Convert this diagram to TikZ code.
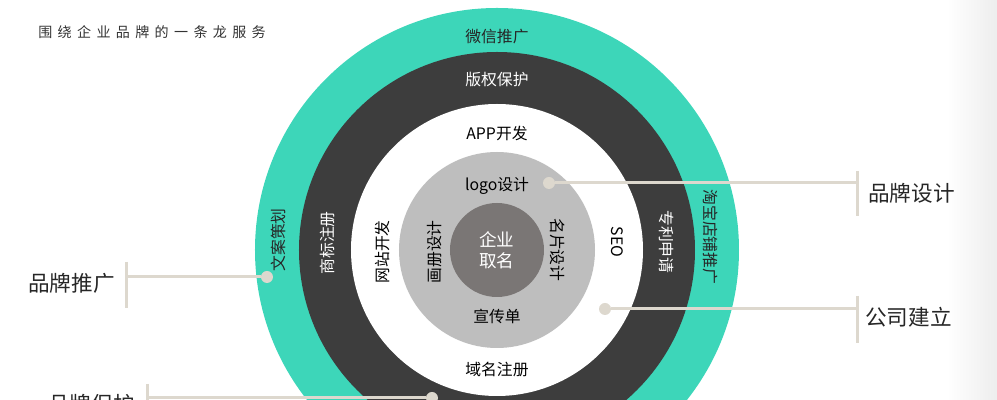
\documentclass[tikz,border=0pt]{standalone}
\usepackage{fontspec}
\setmainfont{Noto Sans CJK SC}
\newfontfamily\titlefont[LetterSpace=38]{Noto Sans CJK SC}
\usetikzlibrary{positioning}
\definecolor{tealring}{HTML}{3DD6B9}
\definecolor{darkring}{HTML}{3D3D3D}
\definecolor{grayring}{HTML}{BEBEBE}
\definecolor{corering}{HTML}{7A7675}
\definecolor{beige}{HTML}{DDD8CE}
\tikzset{
  lbl/.style={font=\fontsize{9}{9}\selectfont, inner sep=0mm
  },
  corelbl/.style={font=\fontsize{10}{12}\selectfont, inner sep=0mm, white, align=center
  },
  biglbl/.style={font=\fontsize{12.3}{12.3}\selectfont, inner sep=0mm, black!85
  },
  dotnode/.style={circle, fill=beige, minimum size=2.4mm, inner sep=0mm
  },
  link/.style={beige, line width=0.6mm
  }
}

\begin{document}
\begin{tikzpicture}
   \clip (-9.94,5) rectangle (10,-3);
   \shade[left color=white, right color=black!7] (9.0,5) rectangle (10,-3);

   \fill[tealring] (0,0) circle (4.84);
   \fill[darkring] (0,0) circle (3.96);
   \fill[white] (0,0) circle (2.92);
   \fill[grayring] (0,0) circle (1.96);
   \fill[corering] (0,0) circle (0.94);

   \node[anchor=west, inner sep=0mm, font=\titlefont\fontsize{8}{8}\selectfont, black!80] (title) at (-9.18,4.36) {围绕企业品牌的一条龙服务};

   % outer ring
   \node[lbl, black!85] (wx) at (0,4.26) {微信推广};
   \node[lbl, black!85, rotate=90] (wa) at (-4.38,0.2) {文案策划};
   \node[lbl, black!85, rotate=-90] (tb) at (4.26,0.26) {淘宝店铺推广};
   % dark ring
   \node[lbl, white] (bq) at (0,3.4) {版权保护};
   \node[lbl, white, rotate=90] (sb) at (-3.38,0.14) {商标注册};
   \node[lbl, white, rotate=-90] (zl) at (3.4,0.16) {专利申请};
   % white ring
   \node[lbl] (app) at (0,2.34) {APP开发};
   \node[lbl, rotate=90] (wz) at (-2.3,-0.04) {网站开发};
   \node[lbl, rotate=-90] (seo) at (2.4,0.16) {SEO};
   \node[lbl] (ym) at (0,-2.4) {域名注册};
   % gray ring
   \node[lbl] (logo) at (0,1.28) {logo设计};
   \node[lbl, rotate=90] (hc) at (-1.24,-0.04) {画册设计};
   \node[lbl, rotate=-90] (mp) at (1.22,0) {名片设计};
   \node[lbl] (xc) at (0,-1.32) {宣传单};
   \node[corelbl] (core) at (0,0) {企业\\取名};

   % callouts
   \node[dotnode] (d1) at (1.04,1.34) {};
   \coordinate (e1) at (7.2,1.34);
   \coordinate (t1a) at (7.2,1.58);
   \coordinate (t1b) at (7.2,0.68);
   \draw[link] (d1) -- (e1);
   \draw[link] (t1a) -- (t1b);
   \node[biglbl, anchor=west] (ppsj) at (7.42,1.14) {品牌设计};

   \node[dotnode] (d2) at (2.16,-1.18) {};
   \coordinate (e2) at (7.2,-1.18);
   \coordinate (t2a) at (7.2,-0.92);
   \coordinate (t2b) at (7.2,-1.86);
   \draw[link] (d2) -- (e2);
   \draw[link] (t2a) -- (t2b);
   \node[biglbl, anchor=west] (gsjl) at (7.36,-1.34) {公司建立};

   \node[dotnode] (d3) at (-4.6,-0.54) {};
   \coordinate (e3) at (-7.4,-0.54);
   \coordinate (t3a) at (-7.4,-0.24);
   \coordinate (t3b) at (-7.4,-1.16);
   \draw[link] (d3) -- (e3);
   \draw[link] (t3a) -- (t3b);
   \node[biglbl, anchor=east] (pptg) at (-7.64,-0.66) {品牌推广};

   \node[dotnode] (d4) at (-1.3,-2.96) {};
   \coordinate (e4) at (-6.98,-2.96);
   \coordinate (t4a) at (-6.98,-2.68);
   \coordinate (t4b) at (-6.98,-3.6);
   \draw[link] (d4) -- (e4);
   \draw[link] (t4a) -- (t4b);
   \node[biglbl, anchor=east] (ppbh) at (-7.24,-3.08) {品牌保护};
\end{tikzpicture}
\end{document}
